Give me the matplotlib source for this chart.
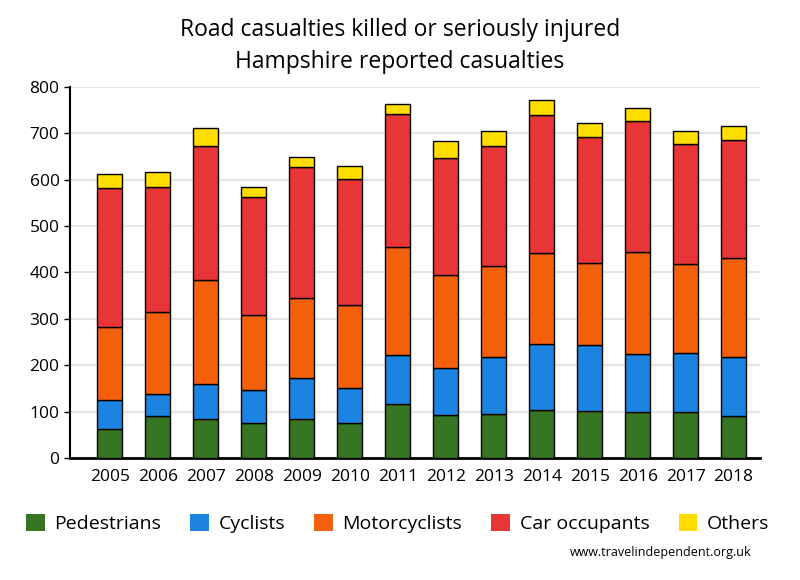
import numpy as np
import matplotlib
matplotlib.use('Agg')
import matplotlib.pyplot as plt
from matplotlib.patches import Patch

years = ['2005', '2006', '2007', '2008', '2009', '2010', '2011', '2012', '2013', '2014', '2015', '2016', '2017', '2018']
pedestrians = [63, 91, 85, 76, 85, 76, 117, 93, 95, 104, 102, 100, 100, 91]
cyclists = [63, 47, 75, 71, 88, 75, 105, 101, 123, 142, 142, 125, 127, 127]
motorcyclists = [157, 177, 224, 161, 172, 179, 233, 201, 196, 196, 176, 219, 191, 213]
car_occupants = [299, 269, 288, 254, 282, 271, 286, 251, 258, 297, 272, 282, 258, 254]
others = [30, 33, 39, 22, 21, 28, 22, 37, 32, 32, 30, 28, 28, 30]

series = [('Pedestrians', pedestrians, '#367622'),
          ('Cyclists', cyclists, '#1c84e0'),
          ('Motorcyclists', motorcyclists, '#f4600c'),
          ('Car occupants', car_occupants, '#e83535'),
          ('Others', others, '#ffdd00')]

plt.rcParams['font.family'] = ['Open Sans', 'DejaVu Sans']

fig = plt.figure(figsize=(8, 5.8), dpi=100)
ax = fig.add_axes([0.0875, 0.2103, 0.8625, 0.64])

x = np.arange(len(years))
bottom = np.zeros(len(years))
handles = []
for name, vals, col in series:
    ax.bar(x, vals, width=0.52, bottom=bottom, color=col, edgecolor='black',
           linewidth=1, zorder=3)
    bottom += np.array(vals)
    handles.append(Patch(facecolor=col, edgecolor='none', label=name))

ax.set_xlim(-0.83, 13.55)
ax.set_ylim(0, 800)
ax.set_yticks(range(0, 801, 100))
ax.set_xticks(x)
ax.set_xticklabels(years)
ax.tick_params(axis='both', labelsize=12.5, length=4, width=1)
ax.tick_params(axis='x', length=0, pad=8)
ax.grid(axis='y', color='#e6e6e6', linewidth=1.5, zorder=0)
for s in ['top', 'right']:
    ax.spines[s].set_visible(False)
ax.spines['left'].set_linewidth(1.5)
ax.spines['bottom'].set_linewidth(2)

fig.suptitle('Road casualties killed or seriously injured\nHampshire reported casualties',
             y=0.969, fontsize=16.5, linespacing=1.45)

fig.legend(handles=handles, loc='center', bbox_to_anchor=(0.497, 0.097), ncol=5,
           frameon=False, fontsize=14, handlelength=0.95, handleheight=0.95,
           handletextpad=0.5, columnspacing=1.5)
fig.text(0.94, 0.047, 'www.travelindependent.org.uk', ha='right', va='center', fontsize=9)

fig.savefig('out.png', dpi=100)
